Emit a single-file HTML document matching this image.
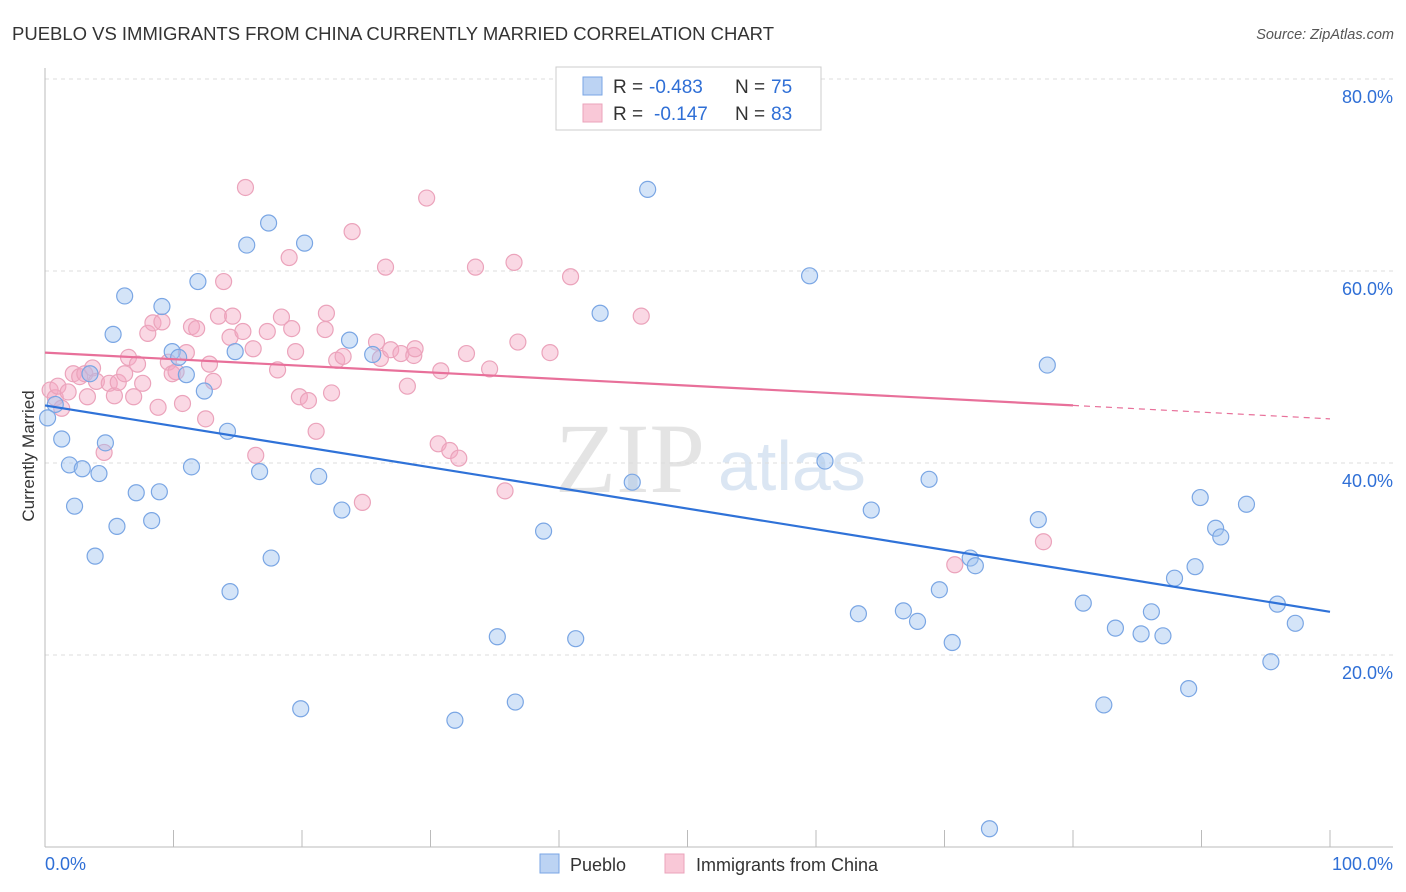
<!DOCTYPE html>
<html><head><meta charset="utf-8"><style>
body{margin:0;background:#fff;font-family:"Liberation Sans",sans-serif}
svg{display:block}
</style></head><body>
<svg id="chart" width="1406" height="892">
<text x="12" y="40" font-size="18.5" fill="#333" textLength="762">PUEBLO VS IMMIGRANTS FROM CHINA CURRENTLY MARRIED CORRELATION CHART</text>
<text x="1394" y="39" font-size="14.5" fill="#555" font-style="italic" text-anchor="end">Source: ZipAtlas.com</text>
<text x="555" y="492" font-size="100" fill="#e4e4e4" font-family="Liberation Serif,serif">ZIP</text>
<text x="718" y="490" font-size="70" fill="#dbe6f3">atlas</text>
<g id="grid"></g>
<g id="axes"></g>
<g id="marks"></g>
<g>
<rect x="556" y="67" width="265" height="63" fill="#fff" stroke="#ccc"/>
<rect x="583" y="77" width="19" height="18" fill="#bcd3f3" stroke="#7aa6e4"/>
<rect x="583" y="104" width="19" height="18" fill="#f9c8d7" stroke="#eba3bb"/>
<text y="93" font-size="19" fill="#333"><tspan x="613">R =</tspan><tspan x="649" fill="#2f6fd6">-0.483</tspan><tspan x="735">N =</tspan><tspan x="771" fill="#2f6fd6">75</tspan></text>
<text y="120" font-size="19" fill="#333"><tspan x="613">R =</tspan><tspan x="654" fill="#2f6fd6">-0.147</tspan><tspan x="735">N =</tspan><tspan x="771" fill="#2f6fd6">83</tspan></text>
</g>
<text x="34" y="456" font-size="17" fill="#333" transform="rotate(-90 34 456)" text-anchor="middle">Currently Married</text>
<g>
<rect x="540" y="854" width="19" height="19" fill="#bcd3f3" stroke="#7aa6e4"/>
<text x="570" y="871" font-size="18" fill="#333">Pueblo</text>
<rect x="665" y="854" width="19" height="19" fill="#f9c8d7" stroke="#eba3bb"/>
<text x="696" y="871" font-size="18" fill="#333">Immigrants from China</text>
</g>
</svg>
<script>
const yTicks=[20,40,60,80];
const yTickLabels=["20.0%","40.0%","60.0%","80.0%"];
const xTicks=[0,10,20,30,40,50,60,70,80,90,100];
const puebloX=[0.8,1.3,1.9,2.3,2.9,3.5,3.9,4.2,4.7,5.3,5.6,6.2,7.1,8.3,8.9,9.1,9.9,10.4,11.0,11.4,11.9,12.4,14.2,14.4,14.8,15.7,16.7,17.4,17.6,19.9,20.2,21.3,23.1,23.7,25.5,31.9,35.2,36.6,38.8,41.3,43.2,45.7,46.9,59.5,60.7,63.3,64.3,66.8,67.9,68.8,69.6,70.6,72.0,72.4,73.5,77.3,78.0,80.8,82.4,83.3,85.3,86.1,87.0,87.9,89.0,89.5,89.9,91.1,91.5,93.5,95.4,95.9,97.3,0.2];
const puebloY=[46.1,42.5,39.8,35.5,39.4,49.3,30.3,38.9,42.1,53.4,33.4,57.4,36.9,34.0,37.0,56.3,51.6,51.0,49.2,39.6,58.9,47.5,43.3,26.6,51.6,62.7,39.1,65.0,30.1,14.4,62.9,38.6,35.1,52.8,51.3,13.2,21.9,15.1,32.9,21.7,55.6,38.0,68.5,59.5,40.2,24.3,35.1,24.6,23.5,38.3,26.8,21.3,30.1,29.3,1.9,34.1,50.2,25.4,14.8,22.8,22.2,24.5,22.0,28.0,16.5,29.2,36.4,33.2,32.3,35.7,19.3,25.3,23.3,44.7];
const chinaX=[0.4,0.8,1.0,1.3,1.8,2.2,2.7,3.1,3.3,3.7,4.0,4.6,5.0,5.4,5.7,6.2,6.5,6.9,7.2,7.6,8.0,8.4,8.8,9.1,9.6,9.9,10.2,10.7,11.0,11.4,11.8,12.5,12.8,13.1,13.5,13.9,14.4,14.6,15.4,15.6,16.2,16.4,17.3,18.1,18.4,19.0,19.2,19.5,19.8,20.5,21.1,21.8,21.9,22.3,22.7,23.2,23.9,24.7,25.8,26.1,26.5,26.9,27.7,28.2,28.7,28.8,29.7,30.6,30.8,31.5,32.2,32.8,33.5,34.6,35.8,36.5,36.8,39.3,40.9,46.4,70.8,77.7];
const chinaY=[47.6,46.8,48.0,45.7,47.4,49.3,49.0,49.3,46.9,49.9,48.5,41.1,48.3,47.0,48.4,49.3,51.0,46.9,50.3,48.3,53.5,54.6,45.8,54.7,50.5,49.3,49.5,46.2,51.5,54.2,54.0,44.6,50.3,48.5,55.3,58.9,53.1,55.3,53.7,68.7,51.9,40.8,53.7,49.7,55.2,61.4,54.0,51.6,46.9,46.5,43.3,53.9,55.6,47.3,50.7,51.1,64.1,35.9,52.6,50.9,60.4,51.8,51.4,48.0,51.2,51.9,67.6,42.0,49.6,41.3,40.5,51.4,60.4,49.8,37.1,60.9,52.6,51.5,59.4,55.3,29.4,31.8];
const puebloTrend=[[0,46.0],[100,24.5]];
const chinaTrendSolid=[[0,51.5],[80,46.0]];
const chinaTrendDash=[[80,46.0],[100,44.6]];

const NS="http://www.w3.org/2000/svg";
const X0=45,X1=1330,Y0=847,PPY=9.6;
const sx=v=>X0+(X1-X0)*v/100;
const sy=v=>Y0-v*PPY;
function mk(tag,attrs,parent){const e=document.createElementNS(NS,tag);for(const k in attrs)e.setAttribute(k,attrs[k]);parent.appendChild(e);return e;}
const grid=document.getElementById('grid'),axes=document.getElementById('axes'),marks=document.getElementById('marks');
yTicks.forEach((t,i)=>{
 const l=mk('line',{x1:X0,x2:1393,y1:sy(t),y2:sy(t),stroke:'#ddd','stroke-dasharray':'4,4'},grid);
 
 
 const tx=mk('text',{x:1393,y:sy(t)+24,'font-size':18,fill:'#2f6fd6','text-anchor':'end'},axes);
 tx.textContent=yTickLabels[i];
 
 
});
const topG=mk('line',{x1:X0,x2:1393,y1:79,y2:79,stroke:'#ddd','stroke-dasharray':'4,4'},grid);


const ax=mk('line',{x1:X0,x2:1393,y1:Y0,y2:Y0,stroke:'#bbb'},axes);


const ay=mk('line',{x1:X0,x2:X0,y1:68,y2:Y0,stroke:'#bbb'},axes);


xTicks.forEach(t=>{
 const l=mk('line',{x1:sx(t),x2:sx(t),y1:830,y2:Y0,stroke:'#bbb'},axes);
 
 
});
const xl0=mk('text',{x:45,y:870,'font-size':18,fill:'#2f6fd6'},axes);xl0.textContent='0.0%';


const xl1=mk('text',{x:1393,y:870,'font-size':18,fill:'#2f6fd6','text-anchor':'end'},axes);xl1.textContent='100.0%';


chinaX.forEach((v,i)=>{
 const c=mk('circle',{cx:sx(v),cy:sy(chinaY[i]),r:8,fill:'rgba(244,168,196,0.45)',stroke:'#eba3bb','stroke-width':1.2},marks);
 
 
});
puebloX.forEach((v,i)=>{
 const c=mk('circle',{cx:sx(v),cy:sy(puebloY[i]),r:8,fill:'rgba(160,196,240,0.45)',stroke:'#7aa6e4','stroke-width':1.2},marks);
 
 
});
function line(p,stroke,dash,name){
 const l=mk('line',{x1:sx(p[0][0]),y1:sy(p[0][1]),x2:sx(p[1][0]),y2:sy(p[1][1]),stroke:stroke,'stroke-width':dash?1.2:2.2},marks);
 if(dash)l.setAttribute('stroke-dasharray','6,5');
 
 
}
line(puebloTrend,'#2f72d8',false,'trend-line-pueblo');
line(chinaTrendSolid,'#e8709a',false,'trend-line-china');
line(chinaTrendDash,'#e8709a',true,'trend-line-china-extension');
</script>
</body></html>
